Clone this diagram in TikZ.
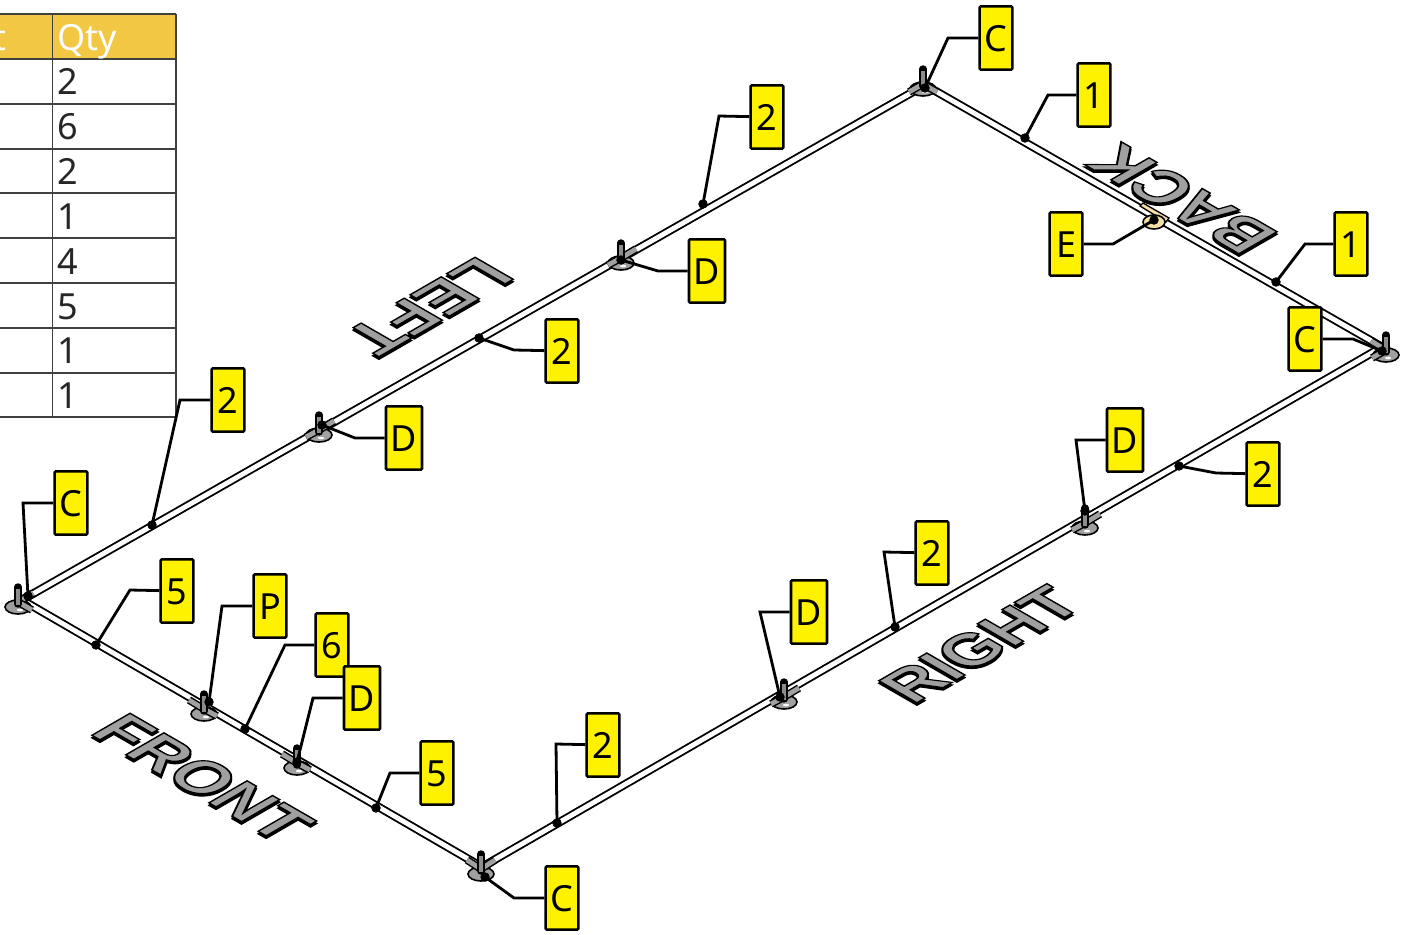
\documentclass[tikz,border=0pt]{standalone}
\usepackage{fontspec}
\setmainfont{Noto Sans}
\newfontfamily\wordfont{Liberation Sans}
\definecolor{headgold}{HTML}{F2C744}
\definecolor{partgrey}{HTML}{A0A0A0}
\definecolor{teetan}{HTML}{F6DFA6}
\tikzset{
    pipe/.style={double,draw=black,double=white,line width=1.4pt,double distance=3.6pt},
    stub/.style={double,draw=black,double=partgrey,line width=1.1pt,double distance=3.6pt},
    balloon/.style={draw=black,fill=yellow,line width=1.9pt,rounded corners=0.8pt,inner sep=0pt,
        minimum height=47.5pt,text height=20.8pt,text depth=0pt,font=\fontsize{27}{27}\selectfont},
    leader/.style={draw=black,line width=2.1pt},
    gridline/.style={draw=black!75,line width=1.3pt},
    cell/.style={anchor=base west,inner sep=0pt,font=\fontsize{27}{27}\selectfont},
    wordtext/.style={anchor=base west,inner sep=0pt,transform shape},
    footbase/.pic={
        \draw[fill=partgrey,line width=1.2pt] (0,0) ellipse (13 and 7);
        \fill[white] (2,3) ellipse (3 and 1.3);
    },
    footpost/.pic={
        \draw[black,line width=5.6pt,line cap=round] (0,-3) -- (0,-20);
        \draw[black!45,line width=2.8pt] (0,-2) -- (0,-18);
    }
}
\newcommand{\isoword}[4]{
    \begin{scope}[shift={#3},shift={(0,2.5)},cm={#2,(0,0)}]
        \node[wordtext,text=black] {\wordfont\bfseries\addfontfeature{FakeBold=2.5}\fontsize{48}{48}\selectfont #4};
    \end{scope}
    \begin{scope}[shift={#3},cm={#2,(0,0)}]
        \node[wordtext,text=partgrey] (#1) {\wordfont\bfseries\addfontfeature{FakeBold=2.5}\fontsize{48}{48}\selectfont\special{pdf:code 0 0 0 RG}#4};
    \end{scope}
}
\begin{document}
\begin{tikzpicture}[x=0.75pt,y=-0.75pt]
    \useasboundingbox (0,0) rectangle (1407,935);
    \fill[headgold] (0,14) rectangle (176,59);
    \foreach \rowy in {14,59,104,149,193,238,283,328,373,417} {
        \draw[gridline] (0,\rowy) -- (176,\rowy);
    }
    \draw[gridline] (52.5,14) -- (52.5,417);
    \draw[gridline] (176,14) -- (176,417);
    \node[cell,text=white] (parthead) at (-7,50) {t};
    \node[cell,text=white] (qtyhead) at (57,50) {Qty};
    \foreach \val [count=\rownum] in {2,6,2,1,4,5,1,1} {
        \node[cell,text=black!85] (qty\rownum) at (57,50+44.85*\rownum) {\val};
    }
    \coordinate (fl) at (22,600);
    \coordinate (fr) at (482,867);
    \coordinate (br) at (1382,347);
    \coordinate (bl) at (925,85);
    \draw[pipe] (fl) -- (fr) -- (br) -- (bl) -- cycle;
    \foreach \fx/\fy/\sax/\say/\sbx/\sby in {
        923/89/-14/8/14/8,
        621/263/15/-9/-13/7,
        319/435/15/-9/-13/7,
        1085/528/15/-9/-13/7,
        784/702/15/-9/-13/7,
        18/607/15/-9/14/8,
        481/874/-14/-9/14/-9,
        204/714/-15/-9/13/7,
        297/768/-15/-9/13/7,
        1386/355/-15/-9/-14/8%
    } {
        \pic at (\fx,\fy) {footbase};
        \draw[stub] (\fx,\fy-5) -- ++(\sax,\say);
        \draw[stub] (\fx,\fy-5) -- ++(\sbx,\sby);
        \pic at (\fx,\fy) {footpost};
    }
    \draw[fill=teetan,line width=1pt] (1140,206) -- (1143,203) -- (1169,218) -- (1166,222) -- cycle;
    \draw[fill=teetan,line width=1.2pt] (1154,222) ellipse (11 and 7);
    \isoword{frontword}{0.866,-0.5,0.866,0.5}{(88,733)}{FRONT}
    \isoword{rightword}{0.866,0.5,-0.866,0.5}{(913,705)}{RIGHT}
    \isoword{leftword}{-0.866,-0.5,0.866,-0.5}{(479,255)}{LEFT}
    \isoword{backword}{-0.866,0.5,-0.866,-0.5}{(1281,234)}{BACK}
    \foreach \tag/\txt/\boxw/\bx/\by/\ex/\ey/\tipx/\tipy in {
        ca/C/24.5/996/38/948/38/925/88,
        oa/1/24.5/1094/95/1048/95/1025/138,
        ob/1/24.5/1351/244/1305/244/1276/282,
        ea/E/24.5/1066/244/1113/244/1154/220,
        cb/C/24.5/1305/339/1353/339/1382/351,
        ta/2/24.5/767/117/719/116/703/204,
        da/D/27/707/271/658/271/621/260,
        tb/2/24.5/562/351/514/350/479/338,
        db/D/27/404/438/355/438/322/425,
        tc/2/24.5/228/400/180/400/152/525,
        cc/C/24.5/71/503/23/503/28/596,
        fa/5/24.5/177/591/130/590/96/645,
        pa/P/24.5/270/606/222/606/209/702,
        sa/6/24.5/332/645/285/645/245/729,
        dc/D/27/362/698/313/698/297/762,
        fb/5/24.5/437/773/390/773/376/808,
        td/2/24.5/603/745/556/744/557/823,
        cd/C/24.5/562/898/514/898/485/877,
        dd/D/27/809/612/760/612/780/697,
        te/2/24.5/932/553/884/552/895/627,
        de/D/27/1125/440/1076/440/1085/511,
        tf/2/24.5/1263/474/1216/473/1179/466%
    } {
        \node[balloon,minimum width=\boxw pt] (b\tag) at (\bx,\by) {\txt};
        \coordinate (e\tag) at (\ex,\ey);
        \coordinate (t\tag) at (\tipx,\tipy);
        \draw[leader] (b\tag) -- (e\tag) -- (t\tag);
        \filldraw (t\tag) circle (3.3pt);
    }
\end{tikzpicture}
\end{document}
